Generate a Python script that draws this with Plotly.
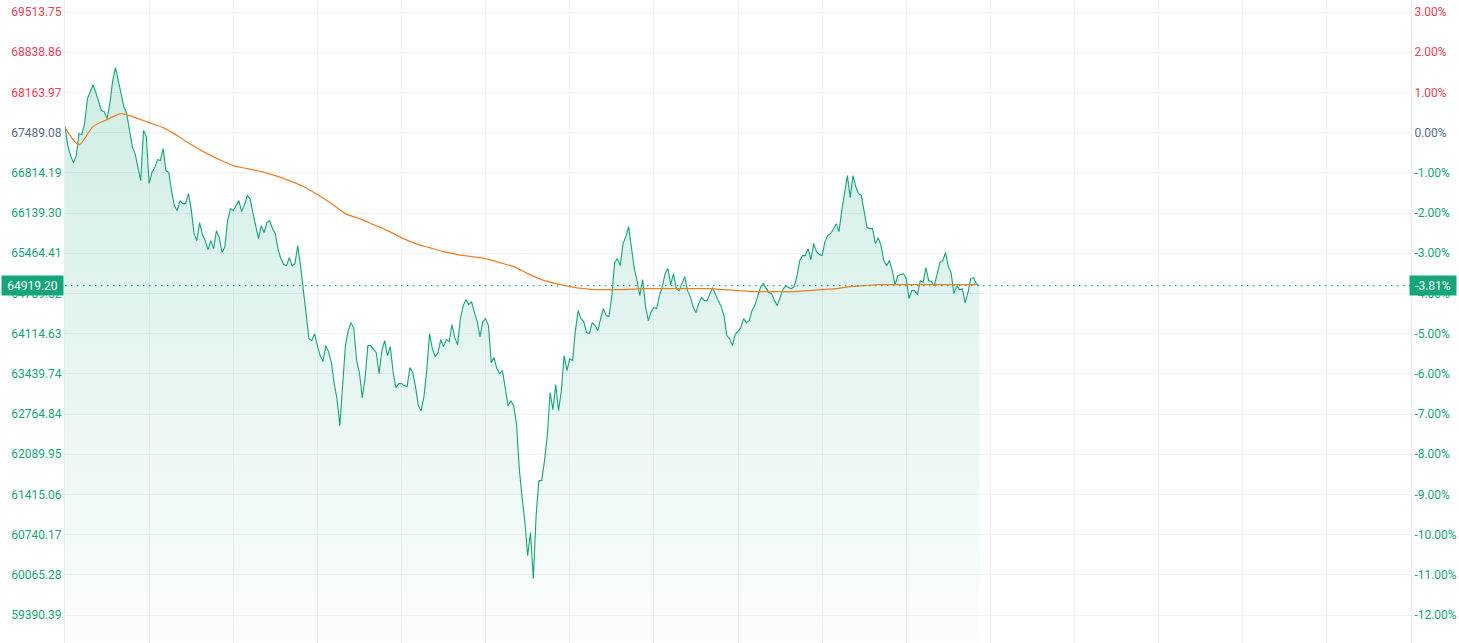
import plotly.graph_objects as go

PREV_CLOSE = 67489.08
LAST_PRICE = 64919.20
SLOTS_PER_DAY = 480  # 3-minute bars over the session
GRID_EVERY = 30
AVG_STEP = 5  # average line sampled every 5 bars

price = [
    67590, 67271, 67103, 66985, 67103, 67472, 67456, 67640, 68060, 68194,
    68295, 68161, 68026, 67859, 67842, 67724, 67976, 68362, 68581, 68362,
    68110, 67926, 67808, 67489, 67254, 67137, 66935, 66683, 67523, 67422,
    66633, 66818, 66902, 67036, 67019, 67221, 66851, 66818, 66515, 66263,
    66180, 66347, 66297, 66297, 66465, 66213, 65793, 65676, 65978, 65777,
    65676, 65525, 65676, 65542, 65844, 65726, 65474, 65575, 66012, 66213,
    66180, 66263, 66347, 66163, 66280, 66431, 66381, 66146, 65928, 65709,
    65928, 65810, 65978, 66012, 65877, 65793, 65525, 65374, 65273, 65256,
    65390, 65256, 65290, 65592, 65256, 64836, 64450, 64030, 63997, 64114,
    63913, 63745, 63644, 63913, 63812, 63627, 63275, 63023, 62570, 63241,
    63913, 64165, 64299, 64198, 63661, 63460, 63040, 63359, 63913, 63913,
    63863, 63795, 63443, 63829, 63997, 63745, 63896, 63476, 63208, 63275,
    63275, 63241, 63225, 63544, 63460, 63225, 62905, 62822, 63057, 63493,
    64114, 63863, 63728, 63795, 64014, 63896, 64014, 63980, 64265, 64047,
    63930, 64366, 64584, 64685, 64601, 64652, 64467, 64316, 64064, 64316,
    64366, 64249, 63627, 63711, 63527, 63443, 63493, 63157, 62905, 62989,
    62905, 62603, 61848, 61361, 60958, 60387, 60773, 60001, 61059, 61646,
    61646, 61982, 62402, 63124, 62838, 63258, 62822, 63157, 63745, 63493,
    63695, 63661, 64165, 64501, 64366, 64316, 64131, 64114, 64299, 64249,
    64165, 64366, 64534, 64417, 64400, 64752, 65306, 65374, 65256, 65625,
    65743, 65911, 65508, 65206, 65004, 64752, 65021, 64584, 64333, 64484,
    64551, 64534, 64752, 64904, 65122, 65206, 64937, 65122, 64870, 64836,
    64954, 65071, 64836, 64736, 64568, 64467, 64618, 64719, 64668, 64668,
    64786, 64887, 64769, 64668, 64568, 64417, 64081, 64030, 63913, 64098,
    64148, 64215, 64366, 64299, 64333, 64501, 64584, 64752, 64887, 64954,
    64870, 64803, 64786, 64668, 64584, 64736, 64853, 64920, 64887, 64870,
    64904, 65071, 65340, 65424, 65424, 65542, 65357, 65625, 65491, 65441,
    65424, 65659, 65760, 65793, 65861, 65961, 65827, 66180, 66465, 66767,
    66398, 66767, 66583, 66465, 66431, 66180, 65894, 65877, 65877, 65625,
    65726, 65592, 65340, 65256, 65340, 65172, 64937, 65088, 65105, 65122,
    65038, 64702, 64836, 64836, 64769, 65004, 64971, 65223, 65004, 64987,
    64920, 65139, 65306, 65340, 65474, 65239, 65139, 64786, 64920, 64853,
    64870, 64635, 64803, 65038, 65055, 64954, 64919.20,
]

avg_price = [
    67573, 67288, 67590, 67707, 67808, 67741, 67657, 67573, 67439, 67288,
    67153, 67036, 66935, 66885, 66834, 66767, 66683, 66583, 66448, 66297,
    66129, 66045, 65944, 65844, 65726, 65625, 65558, 65491, 65441, 65407,
    65374, 65306, 65239, 65122, 65021, 64954, 64904, 64870, 64853, 64853,
    64853, 64870, 64870, 64870, 64870, 64870, 64870, 64853, 64836, 64820,
    64820, 64820, 64820, 64836, 64853, 64870, 64904, 64920, 64937, 64937,
    64937, 64937, 64937, 64937, 64937, 64937,
]

pct_levels = [3, 2, 1, 0, -1, -2, -3, -4, -5, -6, -7, -8, -9, -10, -11, -12]

Y_MIN = 58920.3
Y_MAX = 69715.2

UP = "#ef4056"
FLAT = "#5a6a86"
DOWN = "#14a579"
AVG = "#f47c20"
GRID = "#f0f3f6"


def level_color(p):
    if p > 0:
        return UP
    if p < 0:
        return DOWN
    return FLAT


price_ticks = [PREV_CLOSE * (1 + p / 100) for p in pct_levels]
price_text = [f'<span style="color:{level_color(p)}">{v:.2f}</span>' for p, v in zip(pct_levels, price_ticks)]
pct_text = [f'<span style="color:{level_color(p)}">{p:.2f}%</span>' for p in pct_levels]
pct_range = [(Y_MIN / PREV_CLOSE - 1) * 100, (Y_MAX / PREV_CLOSE - 1) * 100]

fig = go.Figure()
fig.add_trace(go.Scatter(
    x=list(range(len(price))),
    y=price,
    mode="lines",
    line={"color": DOWN, "width": 1.1},
    fill="tozeroy",
    fillgradient={
        "type": "vertical",
        "start": Y_MIN,
        "stop": Y_MAX,
        "colorscale": [[0, "rgba(20,165,121,0.02)"], [1, "rgba(20,165,121,0.22)"]],
    },
    hoverinfo="skip",
))
fig.add_trace(go.Scatter(
    x=list(range(0, len(avg_price) * AVG_STEP, AVG_STEP)),
    y=avg_price,
    mode="lines",
    line={"color": AVG, "width": 1.2, "shape": "spline", "smoothing": 0.8},
    hoverinfo="skip",
))
# empty trace so the percent axis is drawn
fig.add_trace(go.Scatter(x=[None], y=[None], yaxis="y2", showlegend=False, hoverinfo="skip"))

fig.add_shape(
    type="line", xref="paper", x0=0, x1=1, yref="y", y0=LAST_PRICE, y1=LAST_PRICE,
    line={"color": "#22b184", "width": 1.2, "dash": "1.5px,4.5px"},
)
last_pct = (LAST_PRICE / PREV_CLOSE - 1) * 100
fig.add_annotation(
    x=0, xref="paper", xanchor="right", xshift=-1, y=LAST_PRICE, yref="y",
    text=f"{LAST_PRICE:.2f}", showarrow=False, bgcolor=DOWN, borderpad=2,
    width=57, height=15, align="center",
    font={"color": "white", "size": 12},
)
fig.add_annotation(
    x=1, xref="paper", xanchor="left", xshift=-2, y=LAST_PRICE, yref="y",
    text=f"{last_pct:.2f}%", showarrow=False, bgcolor=DOWN, borderpad=2,
    width=42, height=15, align="center",
    font={"color": "white", "size": 12},
)

fig.update_layout(
    width=1459,
    height=643,
    margin={"l": 65, "r": 48, "t": 0, "b": 0},
    plot_bgcolor="white",
    paper_bgcolor="white",
    showlegend=False,
    font={"family": "Roboto, Arial, sans-serif", "size": 12},
    xaxis={
        "range": [0, SLOTS_PER_DAY],
        "tickvals": list(range(0, SLOTS_PER_DAY + 1, GRID_EVERY)),
        "showticklabels": False,
        "showgrid": True,
        "gridcolor": GRID,
        "zeroline": False,
        "ticks": "",
    },
    yaxis={
        "range": [Y_MIN, Y_MAX],
        "tickvals": price_ticks,
        "ticktext": price_text,
        "gridcolor": GRID,
        "zeroline": False,
        "showline": True,
        "linecolor": "#e8ecef",
        "ticks": "",
        "automargin": False,
    },
    yaxis2={
        "overlaying": "y",
        "side": "right",
        "range": pct_range,
        "tickvals": pct_levels,
        "ticktext": pct_text,
        "showgrid": False,
        "zeroline": False,
        "showline": True,
        "linecolor": "#e8ecef",
        "ticks": "",
        "automargin": False,
    },
)

fig.write_html(
    "out.html",
    config={"displayModeBar": False},
    post_script="document.body.style.margin='0';",
)
